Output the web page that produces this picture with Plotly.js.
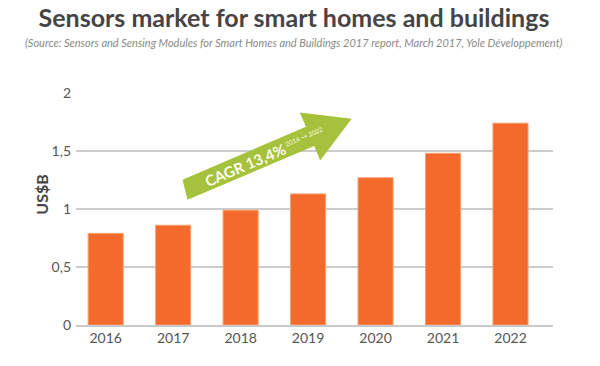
<!DOCTYPE html>
<html>
<head>
<meta charset="utf-8">
<script src="https://cdn.plot.ly/plotly-3.0.1.min.js"></script>
<style>html,body{margin:0;padding:0;background:#fff;}#chart{width:600px;height:366px;}</style>
</head>
<body>
<div id="chart"></div>
<script>
const years = ['2016', '2017', '2018', '2019', '2020', '2021', '2022'];
const marketUSDB = [0.79, 0.86, 0.99, 1.13, 1.27, 1.48, 1.74];
const yTickValues = [0, 0.5, 1, 1.5, 2];
const yTickLabels = ['0', '0,5', '1', '1,5', '2'];
const titleText = 'Sensors market for smart homes and buildings';
const subtitleText = '(Source: Sensors and Sensing Modules for Smart Homes and Buildings 2017 report, March 2017, Yole Développement)';
const cagrText = 'CAGR 13,4%';
const cagrPeriod = '2016 → 2022';

const trace = {
  type: 'bar',
  x: years,
  y: marketUSDB,
  marker: {color: '#f36a2c', line: {color: '#f5a36e', width: 1}},
  hoverinfo: 'skip'
};

// arrow polygon in paper coordinates (decoration)
const arrowPts = [[0.2233,0.6263],[0.4820,0.8547],[0.4692,0.9164],[0.5780,0.8892],[0.5119,0.7095],[0.4992,0.7711],[0.2338,0.5401]];
const arrowPath = 'M ' + arrowPts.map(p => p[0] + ',' + p[1]).join(' L ') + ' Z';

const layout = {
  width: 600, height: 366,
  margin: {l: 76, r: 47, t: 93, b: 41},
  paper_bgcolor: '#ffffff', plot_bgcolor: '#ffffff',
  font: {family: 'Lato, "Open Sans", sans-serif', color: '#555'},
  bargap: 0.48,
  showlegend: false,
  title: {
    text: '<b>' + titleText + '</b>',
    font: {family: 'Lato, sans-serif', size: 25, color: '#454545'},
    x: 0.49, xanchor: 'center', y: 1 - 18/366, yanchor: 'middle', xref: 'container', yref: 'container'
  },
  xaxis: {
    type: 'category',
    range: [-0.44, 6.63],
    showgrid: false,
    showline: true, linecolor: '#c8c8c8', linewidth: 1.5,
    ticks: '',
    tickfont: {size: 14, color: '#555'},
    fixedrange: true
  },
  yaxis: {
    range: [0, 2],
    tickvals: yTickValues,
    ticktext: yTickLabels,
    showgrid: true, gridcolor: '#cccccc', gridwidth: 1.5,
    zeroline: false,
    ticks: '',
    ticklabelstandoff: 4,
    tickfont: {size: 14, color: '#555'},
    fixedrange: true
  },
  shapes: [{
    type: 'path', xref: 'paper', yref: 'paper',
    path: arrowPath,
    fillcolor: '#a6c23c', line: {width: 0}, layer: 'above'
  }],
  annotations: [
    {text: subtitleText, xref: 'paper', yref: 'paper', x: 0.457, y: 1.2168, xanchor: 'center', yanchor: 'middle', showarrow: false,
     font: {family: 'Lato, sans-serif', size: 11, color: '#8a8a8a', style: 'italic'}},
    {text: '<b>US$B</b>', xref: 'paper', yref: 'paper', x: -0.0713, y: 0.5616, xanchor: 'center', yanchor: 'middle', textangle: -90, showarrow: false,
     font: {family: 'Lato, sans-serif', size: 16, color: '#454545'}},
    {text: '<b>' + cagrText + '</b>', xref: 'paper', yref: 'paper', x: 0.3535, y: 0.6918, xanchor: 'center', yanchor: 'middle', textangle: -23, showarrow: false,
     font: {family: 'Lato, sans-serif', size: 15, color: '#fbfbee'}},
    {text: cagrPeriod, xref: 'paper', yref: 'paper', x: 0.478, y: 0.8116, xanchor: 'center', yanchor: 'middle', textangle: -23, showarrow: false,
     font: {family: 'Lato, sans-serif', size: 6.5, color: '#f4f8e0'}}
  ]
};

Plotly.newPlot('chart', [trace], layout, {displayModeBar: false, staticPlot: true});
</script>
</body>
</html>
